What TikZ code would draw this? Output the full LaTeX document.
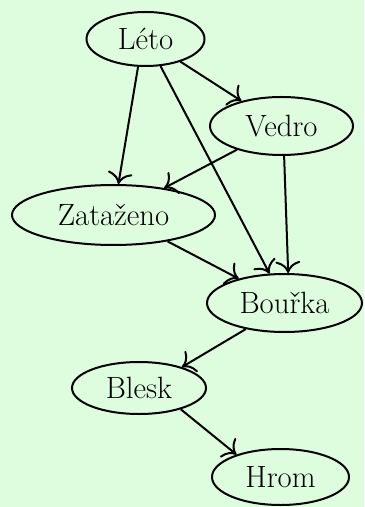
\documentclass[tikz,border=0pt]{standalone}
\usetikzlibrary{shapes.geometric,arrows.meta}
\definecolor{bgc}{RGB}{222,253,222}
\begin{document}
\begin{tikzpicture}[x=0.5pt,y=-0.5pt,
  st/.style={ellipse,draw,line width=1pt,inner sep=0pt,font=\fontsize{15.4}{18}\selectfont},
  con/.style={-{To[scale=1.55]},line width=1pt}]
\fill[bgc] (0,0) rectangle (364,507);
\useasboundingbox (0,0) rectangle (364,507);
\node[st,minimum width=59pt,minimum height=27pt] (leto) at (145.5,39) {Léto};
\node[st,minimum width=71.5pt,minimum height=29pt] (vedro) at (281.5,126) {Vedro};
\node[st,minimum width=101.5pt,minimum height=30pt] (zat) at (113.5,215) {Zataženo};
\node[st,minimum width=77.5pt,minimum height=29pt] (bour) at (284.5,303) {Bouřka};
\node[st,minimum width=67pt,minimum height=26pt] (blesk) at (139,388) {Blesk};
\node[st,minimum width=68.5pt,minimum height=28pt] (hrom) at (280.5,477) {Hrom};
\draw[con] (leto.255) -- (zat.81);
\draw[con] (leto.299) -- (bour.117);
\draw[con] (leto.327) -- (vedro.148);
\draw[con] (vedro.208) -- (zat.28);
\draw[con] (vedro.275) -- (bour.83);
\draw[con] (zat.334) -- (bour.152);
\draw[con] (bour.214) -- (blesk.26);
\draw[con] (blesk.333) -- (hrom.153);
\end{tikzpicture}
\end{document}
